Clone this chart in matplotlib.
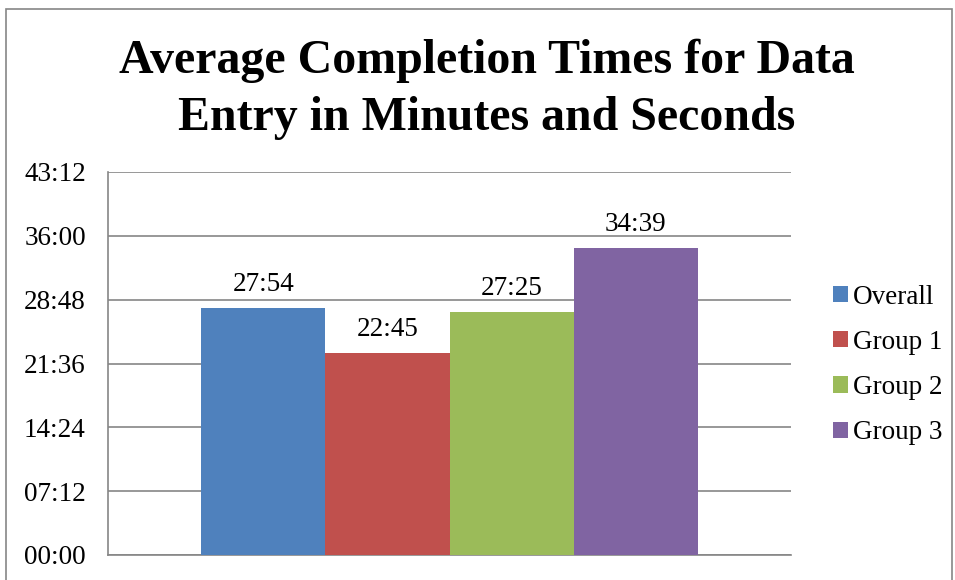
import matplotlib.pyplot as plt
import matplotlib.patches as mpatches
from matplotlib.ticker import FixedLocator, FuncFormatter

# Average completion times, stored as mm:ss strings and converted to seconds
series = ["Overall", "Group 1", "Group 2", "Group 3"]
times = ["27:54", "22:45", "27:25", "34:39"]
colors = ["#4f81bd", "#c0504d", "#9bbb59", "#8064a2"]
y_ticks = ["00:00", "07:12", "14:24", "21:36", "28:48", "36:00", "43:12"]
title_lines = ["Average Completion Times for Data", "Entry in Minutes and Seconds"]


def to_seconds(s):
    m, sec = s.split(":")
    return int(m) * 60 + int(sec)


def mmss(v, _pos=None):
    v = int(round(v))
    return f"{v // 60:02d}:{v % 60:02d}"


plt.rcParams["font.family"] = ["Liberation Serif", "DejaVu Serif"]

W, H = 955, 580
fig = plt.figure(figsize=(W / 100, H / 100), dpi=100)

# chart frame
frame = mpatches.Rectangle((6 / W, -0.05), 946 / W, (H - 9) / H + 0.05,
                           transform=fig.transFigure, fill=False,
                           edgecolor="#868686", linewidth=1.2)
fig.patches.append(frame)

left, right, top, bottom = 108, 791, 172, 555
ax = fig.add_axes([left / W, 1 - bottom / H, (right - left) / W, (bottom - top) / H])

values = [to_seconds(t) for t in times]
n = len(series)
bar_w = 1.0
gap = 1.5  # gap width relative to one bar
for i, (name, v, c, lab) in enumerate(zip(series, values, colors, times)):
    x = -n / 2 + i + 0.5
    ax.bar(x, v, width=bar_w, color=c, label=name, zorder=3)
    ax.text(x, v + 115, lab, ha="center", va="baseline", fontsize=19.5, color="black")

half = n / 2 + gap / 2
ax.set_xlim(-half, half)
tick_vals = [to_seconds(t) for t in y_ticks]
ax.set_ylim(0, tick_vals[-1])
ax.yaxis.set_major_locator(FixedLocator(tick_vals))
ax.yaxis.set_major_formatter(FuncFormatter(mmss))
ax.set_xticks([])
ax.grid(axis="y", color="#868686", linewidth=1.2, zorder=0)
ax.tick_params(axis="y", length=0, labelsize=19.5, pad=16)
for side in ("top", "right"):
    ax.spines[side].set_visible(False)
for side in ("left", "bottom"):
    ax.spines[side].set_color("#868686")
    ax.spines[side].set_linewidth(1.2)

title_x = 0.5 * (118 + 855) / W
for line, base in zip(title_lines, (73, 130)):
    fig.text(title_x, 1 - base / H, line, ha="center", va="baseline",
             fontsize=34.5, fontweight="bold")

leg = fig.legend(loc="center left", bbox_to_anchor=(833 / W, 1 - 365 / H),
                 frameon=False, fontsize=19.5, handlelength=0.55, handleheight=0.55,
                 handletextpad=0.2, labelspacing=0.75, borderpad=0, borderaxespad=0)

fig.savefig("out.png", dpi=100)
